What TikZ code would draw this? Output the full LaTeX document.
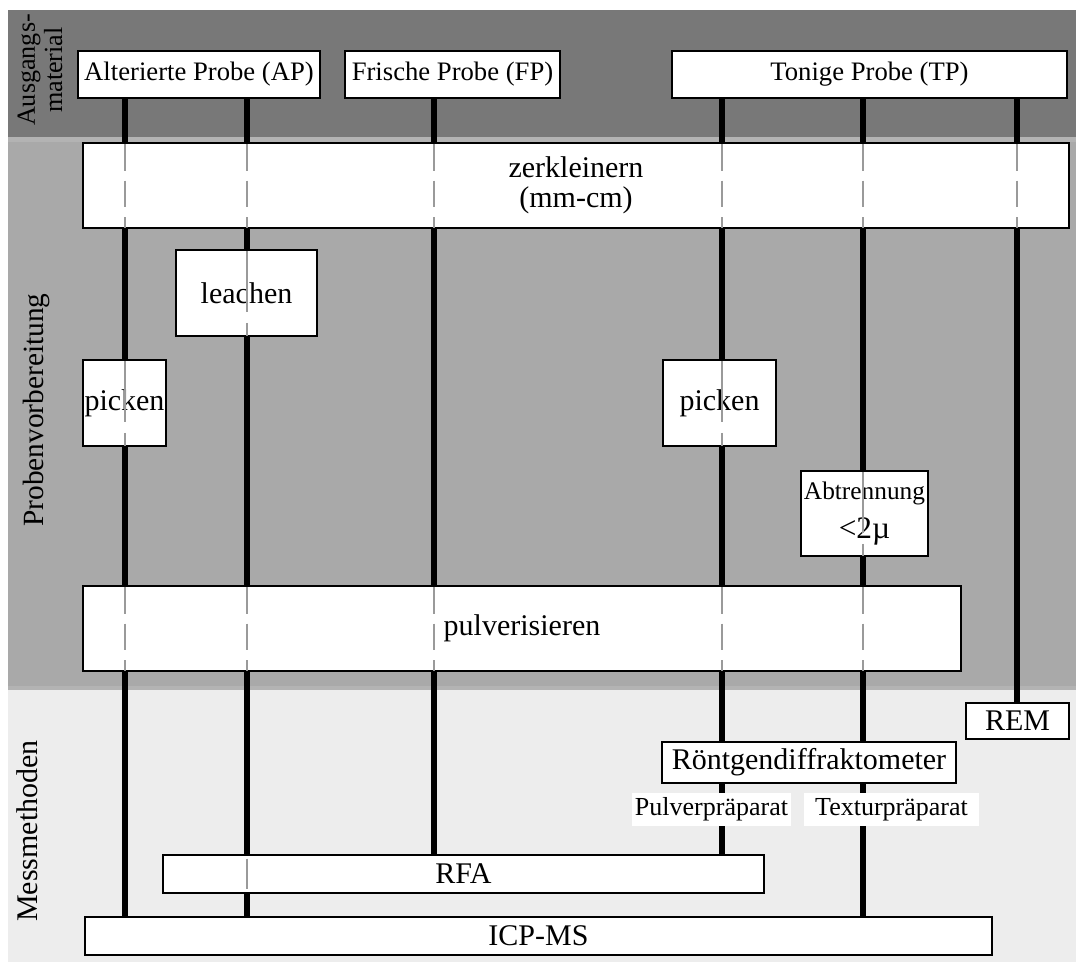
\documentclass[tikz,border=0pt]{standalone}
\usepackage{fontspec}
\setmainfont{Liberation Serif}
\pgfdeclarelayer{bg}
\pgfdeclarelayer{lines}
\pgfdeclarelayer{top}
\pgfsetlayers{bg,lines,main,top}
\definecolor{bandA}{HTML}{787878}
\definecolor{bandB}{HTML}{A9A9A9}
\definecolor{bandE}{HTML}{B3B3B3}
\definecolor{bandC}{HTML}{EDEDED}
\definecolor{dashc}{HTML}{9A9A9A}
\newcommand\rbox[6][]{\node[box,#1,minimum width={(#4-#2)*0.75pt},minimum height={(#5-#3)*0.75pt}] (#6) at ({(#2+#4)/2},{(#3+#5)/2})}
\begin{document}
\begin{tikzpicture}[x=0.75pt,y=-0.75pt,
  box/.style={draw=black,line width=1.6pt,fill=white,inner sep=0pt,align=center},
  lab/.style={fill=white,inner sep=0pt,align=center},
  life/.style={line width=3.9pt,black},
  dA/.style={draw=dashc,line width=1.2pt,dash pattern=on 20pt off 7.5pt,shorten <=1.5pt,shorten >=1pt},
  dB/.style={draw=dashc,line width=1.2pt,dash pattern=on 46pt off 8pt,shorten <=1.5pt,shorten >=1pt},
  fs/.style={font=\fontsize{20}{24}\selectfont},
  fm/.style={font=\fontsize{22.5}{22.5}\selectfont},
  fl/.style={font=\fontsize{19.5}{24}\selectfont}]
\useasboundingbox (0,0) rectangle (1076,965);
% bands
\begin{pgfonlayer}{bg}
\fill[bandA] (8,10) rectangle (1076,137);
\fill[bandB] (8,137) rectangle (1076,690);
\fill[bandE] (8,137) rectangle (1076,142);
\fill[bandE] (8,686) rectangle (1076,690);
\fill[bandC] (8,690) rectangle (1076,962);
\end{pgfonlayer}
% section labels
\node[rotate=90,align=center,font=\fontsize{19.6}{20.3}\selectfont] (lAus) at (40,70) {Ausgangs-\\material};
\node[rotate=90,font=\fontsize{22}{22}\selectfont] (lPro) at (36,410) {Probenvorbereitung};
\node[rotate=90,font=\fontsize{22.5}{22.5}\selectfont] (lMes) at (27,831) {Messmethoden};
% lifeline x positions
\coordinate (l1) at (125,0);
\coordinate (l2) at (247,0);
\coordinate (l3) at (434,0);
\coordinate (l4) at (722,0);
\coordinate (l5) at (863,0);
\coordinate (l6) at (1017,0);
% boxes
\rbox[fs]{78}{51}{320}{98}{AP} {Alterierte Probe (AP)};
\rbox[fs]{345}{51}{560}{98}{FP} {Frische Probe (FP)};
\rbox[fs]{672}{51}{1067}{98}{TP} {Tonige Probe (TP)};
\rbox[fm]{83}{143}{1069}{228}{zerk} {zerkleinern\\(mm-cm)};
\rbox[fm]{176}{250}{317}{336}{leach} {leachen};
\rbox[fm]{83}{360}{166}{446}{pickA} {picken};
\rbox[fm]{663}{360}{776}{446}{pickB} {picken};
\rbox{801}{471}{928}{556}{abtr} {\fontsize{19}{27}\selectfont Abtrennung\\[9pt]\fontsize{23.5}{27}\selectfont <2µ};
\rbox[fm]{83}{586}{961}{671}{pulv} {pulverisieren};
\rbox[fm]{966}{703}{1069}{739}{REM} {REM};
\rbox[fm]{662}{742}{956}{783}{XRD} {Röntgendiffraktometer};
\rbox[fm]{163}{855}{764}{893}{RFA} {RFA};
\rbox[fm]{85}{917}{992}{955}{ICP} {ICP-MS};
\node[lab,fl,minimum width={159*0.75pt},minimum height={33*0.75pt}] (pulvlab) at (711.5,809.5) {Pulverpräparat};
\node[lab,fl,minimum width={175*0.75pt},minimum height={33*0.75pt}] (texlab) at (891.5,809.5) {Texturpräparat};
% lifelines
\begin{pgfonlayer}{lines}
\draw[life] (AP.south -| l1) -- (ICP.north -| l1);
\draw[life] (AP.south -| l2) -- (ICP.north -| l2);
\draw[life] (FP.south -| l3) -- (RFA.north -| l3);
\draw[life] (TP.south -| l4) -- (RFA.north -| l4);
\draw[life] (TP.south -| l5) -- (ICP.north -| l5);
\draw[life] (TP.south -| l6) -- (REM.north -| l6);
\end{pgfonlayer}
% dashed continuations through boxes
\begin{pgfonlayer}{top}
\foreach \l in {l1,l2,l3,l4,l5,l6} \draw[dA] (zerk.north -| \l) -- (zerk.south -| \l);
\foreach \l in {l1,l2,l3,l4,l5} \draw[dA] (pulv.north -| \l) -- (pulv.south -| \l);
\draw[dB] (leach.north -| l2) -- (leach.south -| l2);
\draw[dB] (pickA.north -| l1) -- (pickA.south -| l1);
\draw[dB] (pickB.north -| l4) -- (pickB.south -| l4);
\draw[dB] (abtr.north -| l5) -- (abtr.south -| l5);
\draw[dB,shorten <=3.5pt,shorten >=4pt] (RFA.north -| l2) -- (RFA.south -| l2);
\end{pgfonlayer}
\end{tikzpicture}
\end{document}
